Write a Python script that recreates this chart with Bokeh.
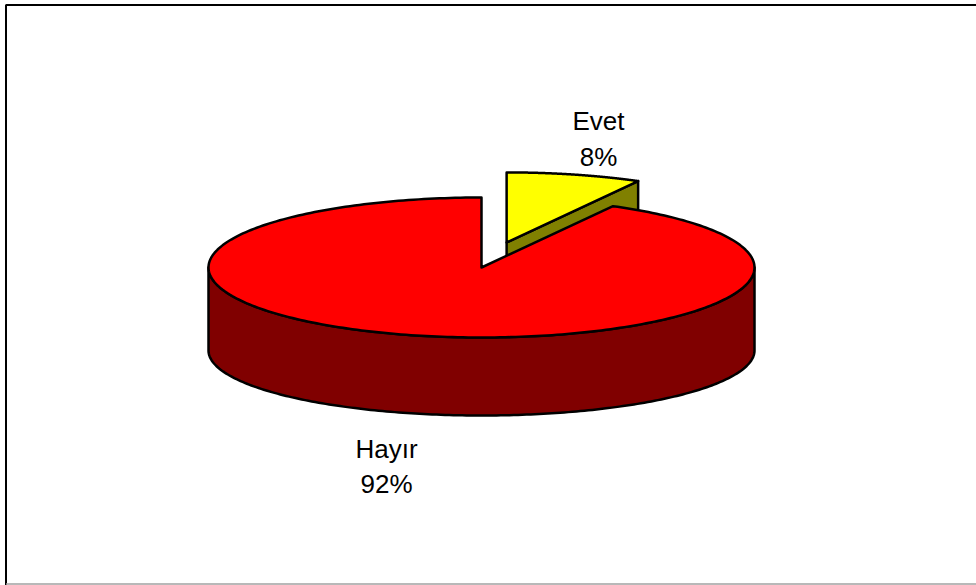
import numpy as np
from bokeh.plotting import figure
from bokeh.models import Range1d
from bokeh.core.properties import value
from bokeh.embed import file_html
from bokeh.resources import INLINE

# ---- data ----
categories = ["Evet", "Hayır"]
values = [8, 92]
pct_labels = ["8%", "92%"]
top_colors = ["#FFFF00", "#FF0000"]
side_colors = ["#808000", "#800000"]
exploded = [True, False]

# ---- geometry (pixels, y down) ----
W, H = 976, 585
cx, cy, rx, ry = 481.0, 267.0, 273.0, 70.0   # top face ellipse
cyb, ryb = 350.0, 65.0                        # bottom ellipse (perspective)
k_explode = 0.37

p = figure(width=W, height=H, output_backend="svg", toolbar_location=None,
           x_range=Range1d(0, W), y_range=Range1d(H, 0), min_border=0,
           border_fill_color="white", background_fill_color="white")
p.axis.visible = False
p.grid.visible = False
p.outline_line_color = None


def top_pt(t, ox=0.0, oy=0.0):
    return cx + ox + rx * np.sin(t), cy + oy - ry * np.cos(t)


def bot_pt(t, ox=0.0, oy=0.0):
    return cx + ox + rx * np.sin(t), cyb + oy * ryb / ry - ryb * np.cos(t)


total = float(sum(values))
starts, ends = [], []
acc = 0.0
for v in values:
    starts.append(2 * np.pi * acc / total)
    acc += v
    ends.append(2 * np.pi * acc / total)

outline = dict(line_color="black", line_width=2.5, line_join="round")

# draw back (exploded) slice first, then the big one
order = [0, 1]
for i in order:
    a0, a1 = starts[i], ends[i]
    mid = 0.5 * (a0 + a1)
    ox = oy = 0.0
    if exploded[i]:
        ox = rx * k_explode * np.sin(mid)
        oy = -ry * k_explode * np.cos(mid)
    # outer wall on visible (front) part: angles within [pi/2, 3pi/2]
    w0, w1 = max(a0, np.pi / 2), min(a1, 3 * np.pi / 2)
    if w1 > w0:
        ts = np.linspace(w0, w1, 200)
        xt, yt = top_pt(ts, ox, oy)
        xb, yb = bot_pt(ts[::-1], ox, oy)
        p.patch(np.concatenate([xt, xb]), np.concatenate([yt, yb]),
                fill_color=side_colors[i], **outline)
    # radial face at end angle (visible when it faces front-right)
    if np.sin(a1) > 0 and np.cos(a1) > 0 and a1 < np.pi:
        ax_t, ay_t = cx + ox, cy + oy
        ax_b, ay_b = cx + ox, cyb + oy * ryb / ry
        ex_t, ey_t = top_pt(a1, ox, oy)
        ex_b, ey_b = bot_pt(a1, ox, oy)
        p.patch([ax_t, ex_t, ex_b, ax_b], [ay_t, ey_t, ey_b, ay_b],
                fill_color=side_colors[i], **outline)
    # top face
    ts = np.linspace(a0, a1, 300)
    xt, yt = top_pt(ts, ox, oy)
    p.patch(np.concatenate([[cx + ox], xt]), np.concatenate([[cy + oy], yt]),
            fill_color=top_colors[i], **outline)

# ---- labels ----
label_x = [598, 386]
name_y = [120, 448]
pct_y = [156, 483]
font = value("Liberation Sans")
p.text(x=label_x, y=name_y, text=categories, text_font=font,
       text_font_size="26px", text_align="center", text_baseline="alphabetic",
       text_color="black")
p.text(x=label_x, y=pct_y, text=pct_labels, text_font=font,
       text_font_size="26px", text_align="center", text_baseline="alphabetic",
       text_color="black")

# ---- chart frame ----
p.line(x=[5.5, 5.5, W], y=[H, 4.5, 4.5], line_color="black", line_width=2)
p.line(x=[5.5, W], y=[583.5, 583.5], line_color="#a0a0a0", line_width=1.5)

open("out.html", "w").write(file_html(p, INLINE))
